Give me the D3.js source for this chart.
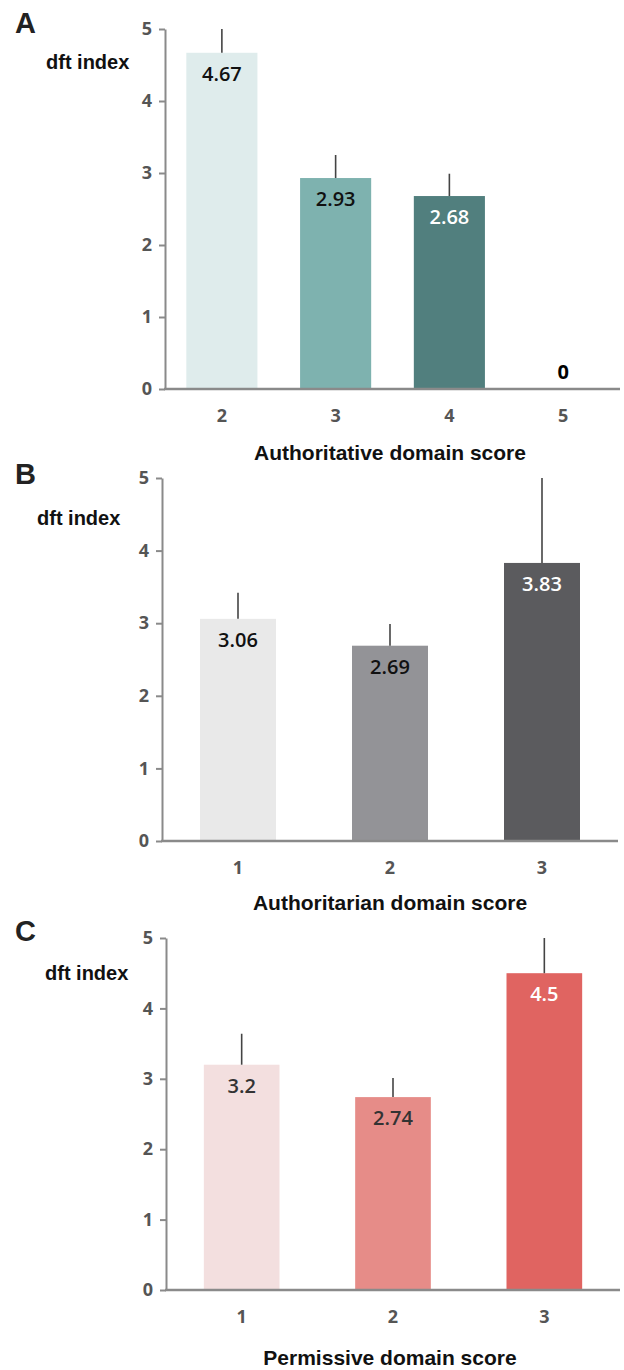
<!doctype html>
<html>
<head>
    <script src="https://d3js.org/d3.v7.min.js"></script>
    <style>
        body { margin: 0; background: #fff; }
        .tick text { font-family: "Open Sans", sans-serif; font-weight: 700; fill: #555; }
    </style>
</head>
<body>
    <script>
        // values; err = height of the upper error whisker
        let catsA = ["2", "3", "4", "5"];
        let valsA = [4.67, 2.93, 2.68, 0];
        let errA = [0.33, 0.32, 0.31, 0];

        let catsB = ["1", "2", "3"];
        let valsB = [3.06, 2.69, 3.83];
        let errB = [0.36, 0.30, 1.17];

        let catsC = ["1", "2", "3"];
        let valsC = [3.2, 2.74, 4.5];
        let errC = [0.44, 0.27, 0.5];

        let yTicks = [0, 1, 2, 3, 4, 5];
        let yLabel = "dft index";

        let panels = [
            {letter: "A", cats: catsA, vals: valsA, err: errA, title: "Authoritative domain score",
             colors: ["#dfecec", "#7eb2af", "#517f7e", "#517f7e"], textColors: ["#111", "#111", "#fff", "#000"],
             top: 29, base: 389, left: 165, right: 620, pad: 0.375, labelX: 46, labelY: 69, letterY: 33, titleY: 460},
            {letter: "B", cats: catsB, vals: valsB, err: errB, title: "Authoritarian domain score",
             colors: ["#e9e9e9", "#939397", "#5b5b5e"], textColors: ["#111", "#111", "#fff"],
             top: 478, base: 841, left: 162, right: 618, pad: 0.5, labelX: 37, labelY: 525, letterY: 484, titleY: 910},
            {letter: "C", cats: catsC, vals: valsC, err: errC, title: "Permissive domain score",
             colors: ["#f3dfdf", "#e68c88", "#e06461"], textColors: ["#333", "#333", "#fff"],
             top: 938, base: 1290, left: 166, right: 620, pad: 0.5, labelX: 45, labelY: 980, letterY: 941, titleY: 1365}
        ];

        let svg = d3.select("body").append("svg")
                    .attr("width", 624).attr("height", 1370);

        panels.forEach(function(p) {
            let g = svg.append("g");
            let x = d3.scaleBand().domain(p.cats).range([p.left, p.right])
                        .paddingInner(p.pad).paddingOuter(p.pad / 2);
            let y = d3.scaleLinear().domain([0, 5]).range([p.base, p.top]);
            let idx = d3.range(p.vals.length);
            let cx = function(i){ return x(p.cats[i]) + x.bandwidth() / 2; };

            // bars
            g.selectAll("rect.bar").data(idx).enter().append("rect")
                .attr("x", function(i){ return x(p.cats[i]); })
                .attr("y", function(i){ return y(p.vals[i]); })
                .attr("width", x.bandwidth())
                .attr("height", function(i){ return y(0) - y(p.vals[i]); })
                .style("fill", function(i){ return p.colors[i]; });

            // error whiskers (upper only)
            g.selectAll("line.err").data(idx.filter(function(i){ return p.err[i] > 0; })).enter()
                .append("line")
                .attr("x1", cx).attr("x2", cx)
                .attr("y1", function(i){ return y(p.vals[i]); })
                .attr("y2", function(i){ return y(p.vals[i] + p.err[i]); })
                .style("stroke", "#444").style("stroke-width", 1.6);

            // value labels
            g.selectAll("text.val").data(idx).enter().append("text")
                .attr("x", cx)
                .attr("y", function(i){ return p.vals[i] > 0 ? y(p.vals[i]) + 28 : y(0) - 10; })
                .attr("text-anchor", "middle")
                .style("font-family", "'Open Sans', sans-serif")
                .style("font-size", "20px")
                .style("font-weight", function(i){ return p.vals[i] > 0 ? 600 : 700; })
                .style("fill", function(i){ return p.textColors[i]; })
                .text(function(i){ return p.vals[i]; });

            // y axis
            let yAxis = g.append("g").attr("transform", "translate(" + p.left + ",0)")
                .call(d3.axisLeft(y).tickValues(yTicks).tickFormat(d3.format("d"))
                        .tickSize(6).tickSizeOuter(0).tickPadding(7));
            yAxis.selectAll("path, line").style("stroke", "#8a8a8a").style("stroke-width", 2);
            yAxis.selectAll("text").style("font-size", "18px");

            // x axis
            let xAxis = g.append("g").attr("transform", "translate(0," + p.base + ")")
                .call(d3.axisBottom(x).tickSize(0).tickSizeOuter(0).tickPadding(20));
            xAxis.select(".domain").attr("d", "M" + (p.left - 1) + ",0H" + p.right)
                .style("stroke", "#8a8a8a").style("stroke-width", 2.5);
            xAxis.selectAll("text").style("font-size", "18px");

            // labels
            g.append("text").attr("x", 15).attr("y", p.letterY)
                .style("font-family", "'Liberation Sans', Arial, sans-serif")
                .style("font-size", "29px").style("font-weight", 700).style("fill", "#222")
                .text(p.letter);
            g.append("text").attr("x", p.labelX).attr("y", p.labelY)
                .style("font-family", "'Liberation Sans', Arial, sans-serif")
                .style("font-size", "20px").style("font-weight", 700).style("fill", "#111")
                .text(yLabel);
            g.append("text").attr("x", 390).attr("y", p.titleY).attr("text-anchor", "middle")
                .style("font-family", "'Liberation Sans', Arial, sans-serif")
                .style("font-size", "21px").style("font-weight", 700).style("fill", "#111")
                .text(p.title);
        });
    </script>
</body>
</html>
